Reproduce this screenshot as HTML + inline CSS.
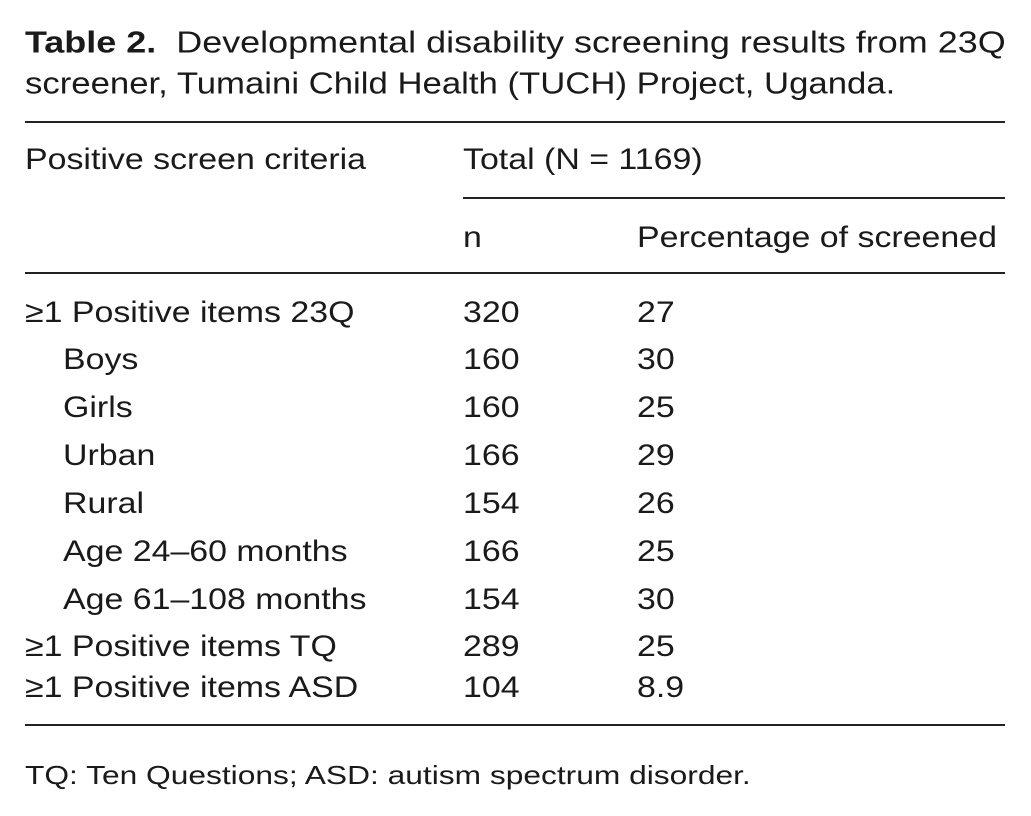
<!DOCTYPE html>
<html><head><meta charset="utf-8"><style>
body{margin:0;background:#fff;width:1031px;height:816px;position:relative;overflow:hidden;font-family:"Liberation Sans",sans-serif;color:#1a1a1a}
.t{position:absolute;white-space:nowrap;font-size:30px;line-height:1;transform:translateY(-50%) scaleX(1.13);transform-origin:left center}
.r{position:absolute;height:2px;background:#222}
</style></head><body>
<div class="t" style="left:25px;top:42px;font-size:31px;transform:translateY(-50%) scaleX(1.16)"><b>Table 2.</b>&nbsp; Developmental disability screening results from 23Q</div>
<div class="t" style="left:25px;top:83px;font-size:31px;transform:translateY(-50%) scaleX(1.12)">screener, Tumaini Child Health (TUCH) Project, Uganda.</div>
<div class="r" style="left:25px;top:121px;width:980px"></div>
<div class="t" style="left:25px;top:160px">Positive screen criteria</div>
<div class="t" style="left:463px;top:160px">Total (N = 1169)</div>
<div class="r" style="left:463px;top:197px;width:542px;height:1.5px"></div>
<div class="t" style="left:463px;top:238px">n</div>
<div class="t" style="left:637px;top:238px">Percentage of screened</div>
<div class="r" style="left:25px;top:272px;width:980px;height:1.5px"></div>

<div class="t" style="left:25px;top:313px">≥1 Positive items 23Q</div><div class="t" style="left:463px;top:313px">320</div><div class="t" style="left:637px;top:313px">27</div>
<div class="t" style="left:63px;top:360px">Boys</div><div class="t" style="left:463px;top:360px">160</div><div class="t" style="left:637px;top:360px">30</div>
<div class="t" style="left:63px;top:408px">Girls</div><div class="t" style="left:463px;top:408px">160</div><div class="t" style="left:637px;top:408px">25</div>
<div class="t" style="left:63px;top:456px">Urban</div><div class="t" style="left:463px;top:456px">166</div><div class="t" style="left:637px;top:456px">29</div>
<div class="t" style="left:63px;top:504px">Rural</div><div class="t" style="left:463px;top:504px">154</div><div class="t" style="left:637px;top:504px">26</div>
<div class="t" style="left:63px;top:552px">Age 24–60 months</div><div class="t" style="left:463px;top:552px">166</div><div class="t" style="left:637px;top:552px">25</div>
<div class="t" style="left:63px;top:600px">Age 61–108 months</div><div class="t" style="left:463px;top:600px">154</div><div class="t" style="left:637px;top:600px">30</div>
<div class="t" style="left:25px;top:647px">≥1 Positive items TQ</div><div class="t" style="left:463px;top:647px">289</div><div class="t" style="left:637px;top:647px">25</div>
<div class="t" style="left:25px;top:688px">≥1 Positive items ASD</div><div class="t" style="left:463px;top:688px">104</div><div class="t" style="left:637px;top:688px">8.9</div>
<div class="r" style="left:25px;top:724px;width:980px"></div>
<div class="t" style="left:25px;top:775px;font-size:26px;transform:translateY(-50%) scaleX(1.22)">TQ: Ten Questions; ASD: autism spectrum disorder.</div>
</body></html>
